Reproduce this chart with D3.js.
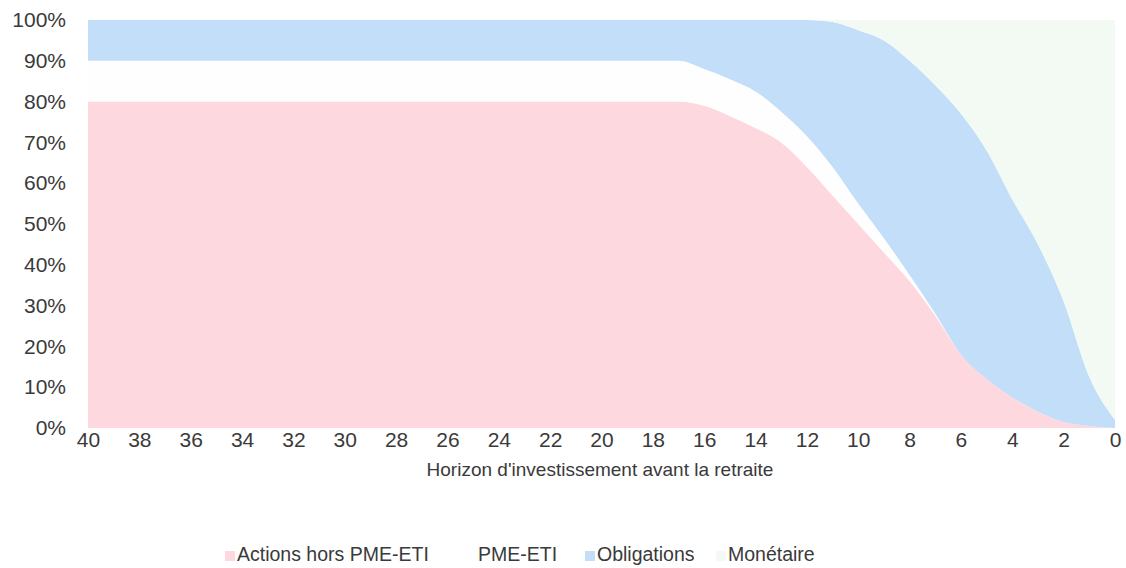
<!DOCTYPE html>
<html>
<head>
<meta charset="utf-8">
<script src="https://cdn.jsdelivr.net/npm/d3@7"></script>
<style>
  html, body { margin: 0; padding: 0; background: #ffffff; }
  svg { display: block; }
  text { font-family: "Liberation Sans", Arial, sans-serif; fill: #3a3a3a; }
</style>
</head>
<body>
<svg id="chart" width="1126" height="568"></svg>
<script>
// Years remaining before retirement (x axis, read right-to-left from 40 down to 0)
const years = [40,39,38,37,36,35,34,33,32,31,30,29,28,27,26,25,24,23,22,21,20,19,18,17,
               16,15,14,13,12,11,10,9,8,7,6,5,4,3,2,1,0];

// Allocation in % for each year, one array per asset class
const actions = [80,80,80,80,80,80,80,80,80,80,80,80,80,80,80,80,80,80,80,80,80,80,80,80,
                 79,76.5,73.5,70,64,57,50,43,36,27.5,18,12,7.5,4,1.5,0.5,0];
const pmeEti = [10,10,10,10,10,10,10,10,10,10,10,10,10,10,10,10,10,10,10,10,10,10,10,10,
                9,9,9,7.5,7.5,7,5,3.5,1.5,0.5,0,0,0,0,0,0,0];
const obligations = [10,10,10,10,10,10,10,10,10,10,10,10,10,10,10,10,10,10,10,10,10,10,10,10,
                     12,14.5,17.5,22.5,28.5,35.5,42.5,48.5,52.5,56,59,56,48.5,41,29.5,12,2];
const monetaire = [0,0,0,0,0,0,0,0,0,0,0,0,0,0,0,0,0,0,0,0,0,0,0,0,
                   0,0,0,0,0,0.5,2.5,5,10,16,23,32,44,55,69,87.5,98];

const seriesNames = ["Actions hors PME-ETI", "PME-ETI", "Obligations", "Monétaire"];
const seriesValues = [actions, pmeEti, obligations, monetaire];
const seriesColors = ["#fdd9df", "#fefefe", "#c2def8", "#f2faf3"];

const xTicks = [40,38,36,34,32,30,28,26,24,22,20,18,16,14,12,10,8,6,4,2,0];
const yTicks = [0,10,20,30,40,50,60,70,80,90,100];
const xTitle = "Horizon d'investissement avant la retraite";

const svg = d3.select("#chart");

const x = d3.scaleLinear().domain([40, 0]).range([88, 1115]);
const y = d3.scaleLinear().domain([0, 100]).range([428, 20]);

// Build rows and stack them
const rows = years.map((yr, i) => {
  const r = { year: yr };
  seriesNames.forEach((n, k) => { r[n] = seriesValues[k][i]; });
  return r;
});
const stacked = d3.stack().keys(seriesNames)(rows);

const area = d3.area()
  .x(d => x(d.data.year))
  .y0(d => y(d[0]))
  .y1(d => y(d[1]))
  .curve(d3.curveMonotoneX);

svg.append("g").selectAll("path")
  .data(stacked)
  .join("path")
  .attr("d", area)
  .attr("fill", (d, i) => seriesColors[i]);

// Y axis: percentage labels only
const yAxis = svg.append("g")
  .attr("transform", `translate(${x(40)},0)`)
  .call(d3.axisLeft(y).tickValues(yTicks).tickFormat(d => d + "%").tickSize(0).tickPadding(22));
yAxis.select(".domain").remove();
yAxis.selectAll("text").style("font-size", "21px").style("font-family", "'Liberation Sans', Arial, sans-serif").attr("fill", "#3a3a3a");

// X axis: years before retirement
const xAxis = svg.append("g")
  .attr("transform", `translate(0,${y(0)})`)
  .call(d3.axisBottom(x).tickValues(xTicks).tickFormat(d3.format("d")).tickSize(0).tickPadding(4));
xAxis.select(".domain").remove();
xAxis.selectAll("text").style("font-size", "21px").style("font-family", "'Liberation Sans', Arial, sans-serif").attr("fill", "#3a3a3a");

svg.append("text")
  .attr("x", 600)
  .attr("y", 476)
  .attr("text-anchor", "middle")
  .style("font-size", "19px")
  .text(xTitle);

// Legend
const legendX = [225, 466, 585, 716];
const legend = svg.append("g");
seriesNames.forEach((n, i) => {
  legend.append("rect")
    .attr("x", legendX[i]).attr("y", 551)
    .attr("width", 10).attr("height", 10)
    .attr("fill", seriesColors[i]);
  legend.append("text")
    .attr("x", legendX[i] + 12).attr("y", 561)
    .style("font-size", "19.5px")
    .text(n);
});
</script>
</body>
</html>
